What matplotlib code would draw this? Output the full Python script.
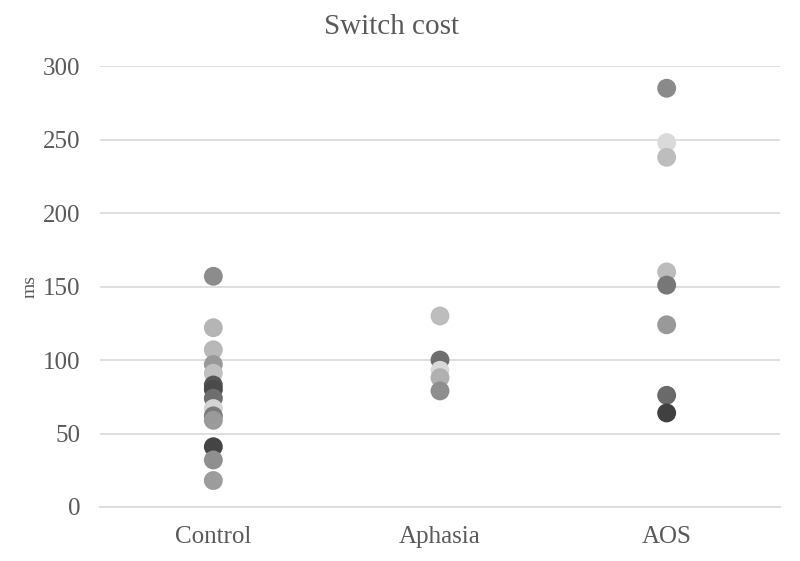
import matplotlib.pyplot as plt

plt.rcParams['font.family'] = ['Liberation Serif', 'DejaVu Serif']

groups = ["Control", "Aphasia", "AOS"]

control_ms = [157, 122, 107, 97, 91, 83, 80, 74, 67, 62, 59, 41, 32, 18]
control_gray = ["#8c8c8c", "#b5b5b5", "#b8b8b8", "#999999", "#c0c0c0", "#555555", "#4a4a4a",
                "#6e6e6e", "#d5d5d5", "#7a7a7a", "#9a9a9a", "#444444", "#8f8f8f", "#9c9c9c"]

aphasia_ms = [130, 100, 93, 88, 79]
aphasia_gray = ["#bdbdbd", "#6e6e6e", "#d8d8d8", "#b0b0b0", "#8e8e8e"]

aos_ms = [285, 248, 238, 160, 151, 124, 76, 64]
aos_gray = ["#8a8a8a", "#dadada", "#bdbdbd", "#bcbcbc", "#777777", "#999999", "#6a6a6a", "#404040"]

fig, ax = plt.subplots(figsize=(8, 5.61), dpi=100)
fig.subplots_adjust(left=0.125, right=0.975, top=0.882, bottom=0.0963)

for i, (vals, cols) in enumerate([(control_ms, control_gray),
                                  (aphasia_ms, aphasia_gray),
                                  (aos_ms, aos_gray)]):
    ax.scatter([i] * len(vals), vals, s=185, c=cols, edgecolors='none', zorder=3)

ax.set_xlim(-0.5, 2.5)
ax.set_ylim(0, 300)
ax.set_yticks(range(0, 301, 50))
ax.set_xticks(range(len(groups)))
ax.set_xticklabels(groups)
ax.grid(axis='y', color='#d9d9d9', linewidth=1.2, zorder=0)
for s in ['top', 'right', 'left']:
    ax.spines[s].set_visible(False)
ax.spines['bottom'].set_color('#d9d9d9')
ax.spines['bottom'].set_linewidth(1.2)
ax.tick_params(axis='x', length=0, labelsize=18, labelcolor='#595959', pad=14)
ax.tick_params(axis='y', length=0, labelsize=18, labelcolor='#595959', pad=14)
ax.set_ylabel("ms", fontsize=14, color='#595959')
ax.yaxis.set_label_coords(-0.09, 0.5)
fig.suptitle("Switch cost", x=0.49, y=0.975, fontsize=21, color='#595959')

fig.savefig("out.png")
